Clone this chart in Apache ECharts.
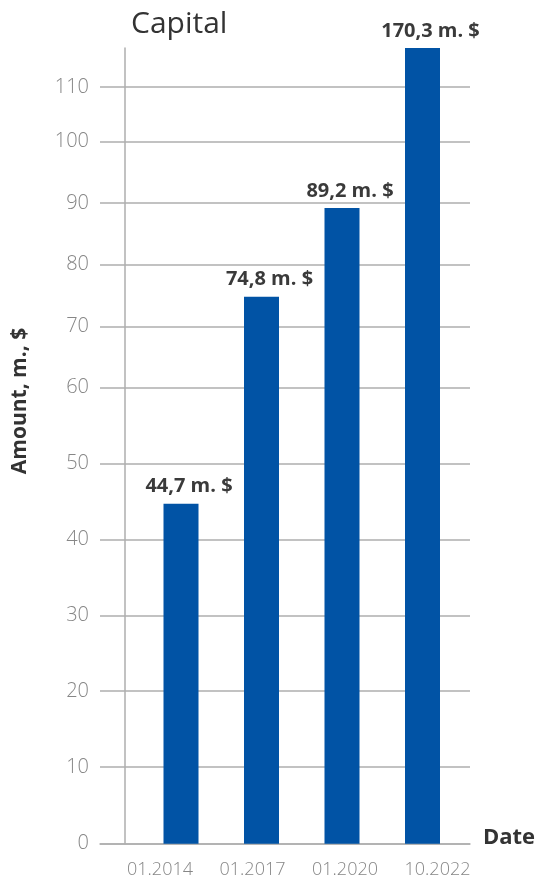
<!DOCTYPE html>
<html>
<head>
<meta charset="utf-8">
<script src="https://cdn.jsdelivr.net/npm/echarts@6/dist/echarts.min.js"></script>
<style>
html,body{margin:0;padding:0;background:#fff;}
#chart{width:540px;height:880px;}
</style>
</head>
<body>
<div id="chart"></div>
<script>
// ---- data ----
const categories = ['01.2014', '01.2017', '01.2020', '10.2022'];
const capitalValues = [44.7, 74.8, 89.2, 170.3];
const yTickValues = [0, 10, 20, 30, 40, 50, 60, 70, 80, 90, 100, 110];
// the original chart's y axis is unevenly spaced: axis units (height above baseline) of each tick
const yTickStops = [0, 76.7, 152.7, 228, 304, 380.4, 456.4, 517.4, 579, 640.7, 702, 756.7];
const yAxisTop = 795.7;

// piecewise-linear scale of the original axis, clamped to the plot
function scaleY(v) {
  const n = yTickValues.length;
  let i = 0;
  while (i < n - 2 && v > yTickValues[i + 1]) i++;
  const t = (v - yTickValues[i]) / (yTickValues[i + 1] - yTickValues[i]);
  const u = yTickStops[i] + t * (yTickStops[i + 1] - yTickStops[i]);
  return Math.max(0, Math.min(yAxisTop, u));
}
function tickLabel(u) {
  for (let i = 0; i < yTickStops.length; i++) {
    if (Math.abs(yTickStops[i] - u) < 1e-6) return String(yTickValues[i]);
  }
  return '';
}

const GRID_TOP = 48, GRID_BOTTOM = 36.3;
const gridColor = '#aeaeae';
const FONT = '"Open Sans", "Noto Sans", sans-serif';

const chart = echarts.init(document.getElementById('chart'), null, {renderer: 'canvas'});
const option = {
  animation: false,
  backgroundColor: '#ffffff',
  title: {
    text: 'Capital',
    left: 126,
    top: 4,
    textStyle: {fontFamily: FONT, fontSize: 30, fontWeight: 400, color: '#333333'}
  },
  graphic: [{
    type: 'text',
    x: 20,
    y: 401,
    rotation: Math.PI / 2,
    style: {
      text: 'Amount, m., $',
      fill: '#333333',
      font: 'bold 21px "Open Sans", "Noto Sans", sans-serif',
      textAlign: 'center',
      textVerticalAlign: 'middle'
    }
  }, {
    type: 'text',
    x: 509,
    y: 838,
    style: {
      text: 'Date',
      fill: '#333333',
      font: 'bold 22px "Open Sans", "Noto Sans", sans-serif',
      textAlign: 'center',
      textVerticalAlign: 'middle'
    }
  }],
  grid: [
    {left: 100, right: 70, top: GRID_TOP, bottom: GRID_BOTTOM},
    {left: 140.75, right: 77.25, top: GRID_TOP, bottom: GRID_BOTTOM},
    {left: 113.75, right: 56.25, top: GRID_TOP, bottom: GRID_BOTTOM}
  ],
  xAxis: [
    {
      gridIndex: 0, type: 'value', min: 0, max: 1,
      axisLine: {show: true, lineStyle: {color: gridColor, width: 1.5}},
      axisTick: {show: false}, axisLabel: {show: false}, splitLine: {show: false}
    },
    {
      gridIndex: 1, type: 'category', data: categories,
      axisLine: {show: false}, axisTick: {show: false}, axisLabel: {show: false}
    },
    {
      gridIndex: 2, type: 'category', data: categories,
      axisLine: {show: false}, axisTick: {show: false},
      axisLabel: {fontFamily: FONT, fontSize: 18, fontWeight: 300, color: '#868686', margin: 17}
    }
  ],
  yAxis: [
    {
      gridIndex: 0, type: 'value', min: 0, max: yAxisTop,
      axisLine: {show: false},
      axisTick: {show: false, customValues: yTickStops},
      axisLabel: {customValues: yTickStops, formatter: tickLabel, margin: 11,
        fontFamily: FONT, fontSize: 20, fontWeight: 300, color: '#868686'},
      splitLine: {show: true, lineStyle: {color: gridColor, width: 1.5}}
    },
    {
      gridIndex: 1, type: 'value', min: 0, max: yAxisTop, offset: 15.75,
      axisLine: {show: true, lineStyle: {color: gridColor, width: 1.5}},
      axisTick: {show: false}, axisLabel: {show: false}, splitLine: {show: false}
    },
    {
      gridIndex: 2, type: 'value', min: 0, max: 1, show: false
    }
  ],
  series: [{
    type: 'bar',
    xAxisIndex: 1,
    yAxisIndex: 1,
    barWidth: 35,
    data: capitalValues.map(v => scaleY(v)),
    itemStyle: {color: '#0153a5'},
    label: {
      show: true,
      position: 'top',
      distance: 7,
      offset: [8, 0],
      formatter: p => capitalValues[p.dataIndex].toFixed(1).replace('.', ',') + ' m. $',
      fontFamily: FONT, fontSize: 20, fontWeight: 'bold', color: '#3a3a3a'
    }
  }]
};
chart.setOption(option);
</script>
</body>
</html>
